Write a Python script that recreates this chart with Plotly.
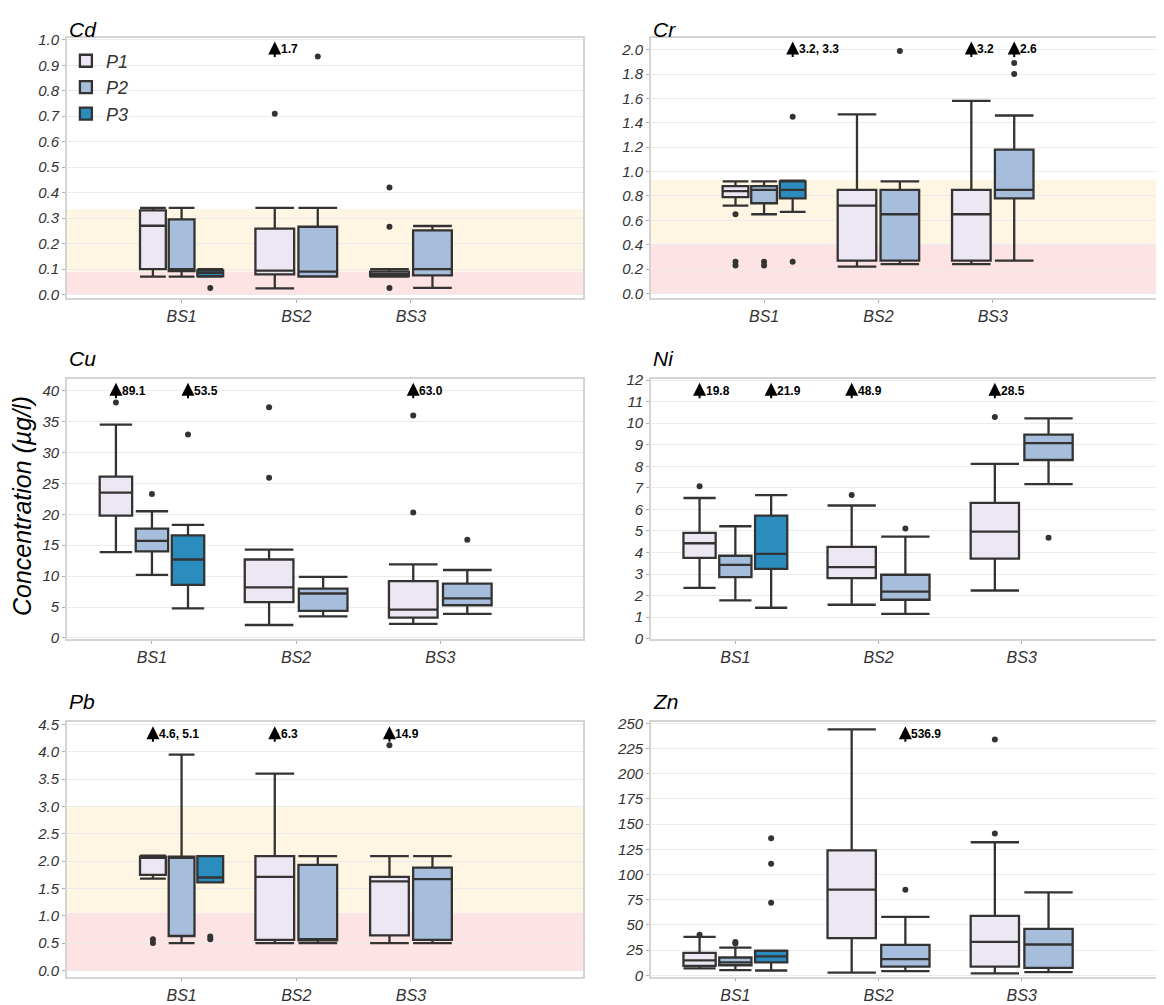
import plotly.graph_objects as go

# ---------------- data ----------------
SITES = ["BS1", "BS2", "BS3"]
PERIODS = ["P1", "P2", "P3"]
PERIOD_COLORS = ["#ece7f2", "#a6bddb", "#2b8cbe"]

# box order used in every panel
BOX_SITE = ["BS1", "BS1", "BS1", "BS2", "BS2", "BS3", "BS3"]
BOX_PERIOD = ["P1", "P2", "P3", "P1", "P2", "P1", "P2"]

# Cd
CD_LOW = [0.07, 0.07, 0.07, 0.024, 0.07, 0.07, 0.026]
CD_Q1 = [0.10, 0.092, 0.072, 0.079, 0.071, 0.072, 0.075]
CD_MED = [0.27, 0.10, 0.085, 0.094, 0.09, 0.08, 0.10]
CD_Q3 = [0.33, 0.295, 0.095, 0.259, 0.266, 0.09, 0.252]
CD_HIGH = [0.34, 0.34, 0.10, 0.34, 0.34, 0.10, 0.269]
CD_OUT = [[], [], [0.026], [0.71], [0.935], [0.42, 0.266, 0.026], []]
CD_OFF = [("BS2", "P1", "1.7")]
CD_BANDS = [0.09, 0.335]

# Cr
CR_LOW = [0.72, 0.65, 0.67, 0.22, 0.24, 0.24, 0.27]
CR_Q1 = [0.79, 0.74, 0.78, 0.27, 0.27, 0.27, 0.78]
CR_MED = [0.84, 0.85, 0.85, 0.72, 0.65, 0.65, 0.85]
CR_Q3 = [0.88, 0.88, 0.92, 0.85, 0.85, 0.85, 1.18]
CR_HIGH = [0.92, 0.92, 0.925, 1.47, 0.92, 1.58, 1.46]
CR_OUT = [[0.65, 0.26, 0.23], [0.26, 0.23], [1.45, 0.26], [], [1.99], [], [1.89, 1.80]]
CR_OFF = [("BS1", "P3", "3.2, 3.3"), ("BS3", "P1", "3.2"), ("BS3", "P2", "2.6")]
CR_BANDS = [0.41, 0.93]

# Cu
CU_LOW = [13.9, 10.2, 4.8, 2.1, 3.5, 2.3, 3.9]
CU_Q1 = [19.8, 14.0, 8.6, 5.8, 4.4, 3.3, 5.3]
CU_MED = [23.5, 15.7, 12.7, 8.2, 7.2, 4.6, 6.4]
CU_Q3 = [26.1, 17.7, 16.6, 12.7, 8.0, 9.2, 8.8]
CU_HIGH = [34.5, 20.5, 18.3, 14.3, 9.9, 11.9, 11.0]
CU_OUT = [[38.1], [23.3], [32.9], [37.3, 25.9], [], [36.0, 20.3], [15.9]]
CU_OFF = [("BS1", "P1", "89.1"), ("BS1", "P3", "53.5"), ("BS3", "P1", "63.0")]

# Ni
NI_LOW = [2.36, 1.78, 1.44, 1.58, 1.16, 2.24, 7.17]
NI_Q1 = [3.75, 2.86, 3.24, 2.81, 1.81, 3.72, 8.29]
NI_MED = [4.43, 3.43, 3.94, 3.32, 2.19, 4.97, 9.07]
NI_Q3 = [4.91, 3.85, 5.71, 4.26, 2.97, 6.30, 9.47]
NI_HIGH = [6.53, 5.22, 6.66, 6.18, 4.74, 8.11, 10.22]
NI_OUT = [[7.07], [], [], [6.67], [5.11], [10.29], [4.69]]
NI_OFF = [("BS1", "P1", "19.8"), ("BS1", "P3", "21.9"), ("BS2", "P1", "48.9"), ("BS3", "P1", "28.5")]

# Pb
PB_LOW = [1.68, 0.50, 1.61, 0.50, 0.50, 0.50, 0.50]
PB_Q1 = [1.75, 0.63, 1.61, 0.56, 0.55, 0.64, 0.56]
PB_MED = [2.08, 2.07, 1.70, 1.71, 0.57, 1.63, 1.67]
PB_Q3 = [2.08, 2.08, 2.09, 2.09, 1.93, 1.71, 1.88]
PB_HIGH = [2.10, 3.95, 2.09, 3.60, 2.09, 2.09, 2.09]
PB_OUT = [[0.57, 0.50], [], [0.62, 0.57], [], [], [4.12], []]
PB_OFF = [("BS1", "P1", "4.6, 5.1"), ("BS2", "P1", "6.3"), ("BS3", "P1", "14.9")]
PB_BANDS = [1.06, 3.0]

# Zn
ZN_LOW = [6.8, 5.2, 4.8, 2.6, 4.2, 1.9, 3.2]
ZN_Q1 = [9.4, 10.0, 12.9, 37.0, 8.7, 8.7, 7.4]
ZN_MED = [14.8, 12.9, 18.7, 85.0, 16.1, 33.2, 30.6]
ZN_Q3 = [22.3, 17.7, 24.2, 124.0, 30.3, 59.0, 46.1]
ZN_HIGH = [38.1, 27.4, 24.5, 244.0, 58.0, 132.0, 82.3]
ZN_OUT = [[40.3], [33.0, 31.6], [136.0, 110.6, 72.0], [], [84.8], [234.0, 140.6], []]
ZN_OFF = [("BS2", "P2", "536.9")]

Y_TITLE = "Concentration (µg/l)"

# ---------------- layout helpers ----------------
# empirical mapping from reference pixels to figure pixels (page offset)
OFF_X = 8
OFF_Y, SCALE_Y = 15.5, 0.983
W, H = 1156, 1010


def px(p):
    return min(max((p - OFF_X) / W, 0.0), 1.0)


def py(p):
    return min(max(1 - ((p - OFF_Y) / SCALE_Y) / H, 0.0), 1.0)


COL_X = [(67, 584), (652, 1164)]
ROW_Y = [(37, 297), (378, 638), (721, 975)]
TITLE_Y = [None, 358, 700]  # None: pin to the top edge of the figure

PINK = "#fde3e4"
CREAM = "#fff5e3"
DARK = "#333333"
GRID = "#ebebeb"
BORDER = "#d4d4d4"
FONT = "Liberation Sans, Arial, sans-serif"

panels = [
    dict(name="Cd", row=0, col=0, low=CD_LOW, q1=CD_Q1, med=CD_MED, q3=CD_Q3, high=CD_HIGH,
         out=CD_OUT, off=CD_OFF, bands=CD_BANDS, yr=[-0.013, 1.009], dtick=0.1, fmt=".1f",
         xr=[0, 4.5]),
    dict(name="Cr", row=0, col=1, low=CR_LOW, q1=CR_Q1, med=CR_MED, q3=CR_Q3, high=CR_HIGH,
         out=CR_OUT, off=CR_OFF, bands=CR_BANDS, yr=[-0.036, 2.10], dtick=0.2, fmt=".1f",
         xr=[0.01, 4.48]),
    dict(name="Cu", row=1, col=0, low=CU_LOW, q1=CU_Q1, med=CU_MED, q3=CU_Q3, high=CU_HIGH,
         out=CU_OUT, off=CU_OFF, bands=None, yr=[-0.2, 41.9], dtick=5, fmt="d",
         xr=[0.41, 3.99]),
    dict(name="Ni", row=1, col=1, low=NI_LOW, q1=NI_Q1, med=NI_MED, q3=NI_Q3, high=NI_HIGH,
         out=NI_OUT, off=NI_OFF, bands=None, yr=[-0.02, 12.05], dtick=1, fmt="d",
         xr=[0.41, 3.98]),
    dict(name="Pb", row=2, col=0, low=PB_LOW, q1=PB_Q1, med=PB_MED, q3=PB_Q3, high=PB_HIGH,
         out=PB_OUT, off=PB_OFF, bands=PB_BANDS, yr=[-0.114, 4.54], dtick=0.5, fmt=".1f",
         xr=[0, 4.5]),
    dict(name="Zn", row=2, col=1, low=ZN_LOW, q1=ZN_Q1, med=ZN_MED, q3=ZN_Q3, high=ZN_HIGH,
         out=ZN_OUT, off=ZN_OFF, bands=None, yr=[-1.3, 251], dtick=25, fmt="d",
         xr=[0.41, 3.98]),
]

# periods present at each site (for dodging)
site_periods = {s: [p for s2, p in zip(BOX_SITE, BOX_PERIOD) if s2 == s] for s in SITES}
DODGE = 0.75


def box_pos(site, period):
    ps = site_periods[site]
    n = len(ps)
    j = ps.index(period)
    step = DODGE / n
    return SITES.index(site) + 1 + (j - (n - 1) / 2) * step, step * 0.9


fig = go.Figure()
layout = dict(
    width=W, height=H, margin=dict(l=0, r=0, t=0, b=0),
    paper_bgcolor="white", plot_bgcolor="white",
    font=dict(family=FONT, color=DARK),
    showlegend=True,
    legend=dict(x=px(66), y=py(42), xanchor="left", yanchor="top",
                bgcolor="rgba(0,0,0,0)", font=dict(size=18, style="italic", color=DARK),
                tracegroupgap=0, itemwidth=30),
    shapes=[], annotations=[],
)

legend_done = set()
for k, pn in enumerate(panels):
    ax = "" if k == 0 else str(k + 1)
    xa, ya = "x" + ax, "y" + ax
    x0, x1 = COL_X[pn["col"]]
    yt, yb = ROW_Y[pn["row"]]
    layout["xaxis" + ax] = dict(
        domain=[px(x0), px(x1)], range=pn["xr"], anchor=ya, type="linear",
        tickvals=[1, 2, 3], ticktext=SITES, showgrid=False, zeroline=False,
        showline=True, mirror=True, linecolor=BORDER, linewidth=1.5,
        ticks="outside", ticklen=3, tickcolor="#b0b0b0",
        tickfont=dict(size=16, style="italic", color=DARK),
    )
    layout["yaxis" + ax] = dict(
        domain=[py(yb), py(yt)], range=pn["yr"], anchor=xa,
        dtick=pn["dtick"], tick0=0, tickformat=pn["fmt"], showgrid=True, gridcolor=GRID,
        gridwidth=1.2, zeroline=False, showline=True, mirror=True, linecolor=BORDER,
        linewidth=1.5, ticks="outside", ticklen=3, tickcolor="#b0b0b0",
        tickfont=dict(size=15, style="italic", color=DARK),
    )
    # threshold bands
    if pn["bands"]:
        lo_b, hi_b = pn["bands"]
        for yy0, yy1, col in [(0, lo_b, PINK), (lo_b, hi_b, CREAM)]:
            layout["shapes"].append(dict(
                type="rect", xref=xa + " domain", yref=ya, x0=0, x1=1, y0=yy0, y1=yy1,
                fillcolor=col, line=dict(width=0), layer="below"))
    # boxes
    for i, (site, per) in enumerate(zip(BOX_SITE, BOX_PERIOD)):
        pos, wdt = box_pos(site, per)
        pi = PERIODS.index(per)
        show = per not in legend_done
        legend_done.add(per)
        fig.add_trace(go.Box(
            x=[pos], q1=[pn["q1"][i]], median=[pn["med"][i]], q3=[pn["q3"][i]],
            lowerfence=[pn["low"][i]], upperfence=[pn["high"][i]],
            width=wdt, whiskerwidth=1, fillcolor=PERIOD_COLORS[pi],
            line=dict(color=DARK, width=2.3), boxpoints=False,
            name=per, legendgroup=per, showlegend=show, legendrank=pi,
            xaxis=xa, yaxis=ya, hoverinfo="skip",
        ))
        if pn["out"][i]:
            fig.add_trace(go.Scatter(
                x=[pos] * len(pn["out"][i]), y=pn["out"][i], mode="markers",
                marker=dict(color=DARK, size=6), showlegend=False,
                xaxis=xa, yaxis=ya, hoverinfo="skip"))
    # off-scale values: arrow + label
    for site, per, label in pn["off"]:
        pos, _ = box_pos(site, per)
        layout["annotations"].append(dict(
            x=pos, y=0.985, xref=xa, yref=ya + " domain", text="", showarrow=True,
            ax=0, ay=17, arrowhead=2, arrowsize=1.3, arrowwidth=2, arrowcolor="black"))
        layout["annotations"].append(dict(
            x=pos, y=0.955, xref=xa, yref=ya + " domain", text="<b>" + label + "</b>",
            showarrow=False, xanchor="left", yanchor="middle", xshift=4,
            font=dict(size=12, color="black", family=FONT)))
    # panel title
    ty = TITLE_Y[pn["row"]]
    layout["annotations"].append(dict(
        x=px(x0), y=1.0 if ty is None else py(ty), xref="paper", yref="paper",
        text=pn["name"], showarrow=False, xanchor="left",
        yanchor="top" if ty is None else "middle",
        font=dict(size=21, style="italic", color="black")))

layout["annotations"].append(dict(
    x=px(22), y=py(505), xref="paper", yref="paper", text=Y_TITLE,
    textangle=-90, showarrow=False, xanchor="center", yanchor="middle",
    font=dict(size=25, style="italic", color="black")))

fig.update_layout(**layout)
fig.write_html("out.html")
